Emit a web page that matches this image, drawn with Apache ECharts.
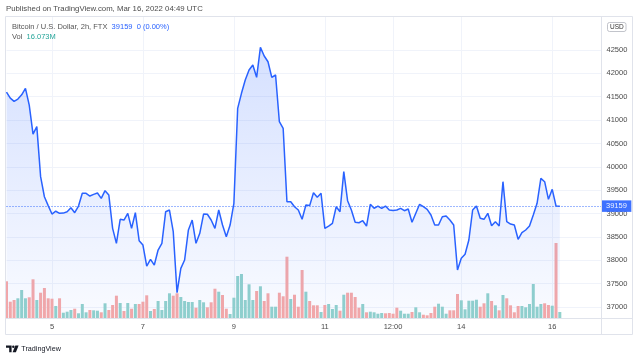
<!DOCTYPE html>
<html><head><meta charset="utf-8">
<script src="https://cdn.jsdelivr.net/npm/echarts@6/dist/echarts.min.js"></script>
<style>html,body{margin:0;padding:0;background:#fff}#c{width:640px;height:358px}</style>
</head><body><div id="c"></div>
<script>
// ---------- DATA ----------
const pairLabel = 'Bitcoin / U.S. Dollar, 2h, FTX';
const changeText = '0 (0.00%)';
const publishedText = 'Published on TradingView.com, Mar 16, 2022 04:49 UTC';

// 2h closes from Mar 4 00:00 UTC
const closes = [
  41600, 41470, 41400, 41450, 41540, 41680, 41320, 40700, 40860, 39790,
  39360, 39170, 38990, 39050, 39005, 39010, 39040, 39125, 39018, 39160,
  39433, 39433, 39375, 39410, 39440, 39326, 39489, 39397, 38684, 38363,
  38877, 38862, 39005, 38684, 39018, 38419, 38327, 37877, 38020, 37898,
  38220, 38363, 39040, 39076, 38612, 37306, 37828, 38006, 38650, 38862,
  38363, 38577, 38990, 38985, 38862, 38684, 39076, 38755, 38506, 38755,
  39219, 41252, 41573, 41858, 42072, 42179, 41915, 42557, 42371, 42249,
  41915, 41965, 40966, 40824, 39253, 39253, 39146, 39076, 38877, 39183,
  39170, 39446, 39348, 39433, 38684, 38733, 38791, 39146, 39040, 39896,
  39275, 39076, 38813, 38804, 38847, 38733, 39198, 39112, 39161, 39112,
  39161, 39076, 39065, 39075, 39112, 39061, 39097, 38813, 39005, 39198,
  39147, 39090, 38969, 38755, 38755, 38933, 38947, 38862, 38755, 37792,
  38042, 38128, 38434, 39076, 39161, 38898, 38877, 39005, 38740, 38826,
  38733, 39682, 38826, 38776, 38755, 38449, 38591, 38648, 38733, 38969,
  39219, 39754, 39682, 39305, 39519, 39161, 39159
];

// volume, millions
const volumes = [
  98.4, 43.7, 48.2, 52.8, 75.0, 52.8, 55.5, 103.7, 48.2, 67.8,
  80.4, 52.8, 51.7, 32.2, 52.8, 14.2, 16.9, 21.4, 24.9, 12.6,
  37.5, 15.3, 21.4, 20.6, 19.6, 15.3, 39.4, 21.4, 34.8, 59.8,
  40.2, 18.8, 40.2, 24.9, 37.5, 37.5, 43.7, 60.8, 18.8, 24.1,
  45.6, 21.4, 45.6, 66.2, 59.8, 66.2, 56.3, 45.6, 42.9, 42.9,
  27.6, 48.2, 42.1, 28.7, 42.1, 78.5, 70.5, 61.6, 24.9, 10.7,
  54.4, 112.6, 117.9, 48.2, 90.3, 48.2, 72.4, 85.0, 45.6, 66.2,
  30.3, 30.3, 67.8, 58.2, 164.3, 50.9, 62.4, 30.3, 128.6, 70.5,
  45.6, 34.0, 34.0, 16.1, 34.8, 37.5, 24.1, 34.8, 19.6, 62.4,
  67.8, 67.8, 56.3, 27.6, 37.5, 15.3, 16.9, 15.3, 11.5, 13.4,
  12.6, 13.4, 11.5, 27.6, 19.6, 11.5, 11.5, 16.1, 28.7, 15.3,
  8.8, 7.2, 13.4, 30.3, 38.3, 30.3, 11.5, 20.6, 20.6, 64.3,
  47.4, 23.3, 46.4, 46.4, 49.0, 30.3, 39.4, 66.2, 45.6, 34.0,
  20.6, 61.6, 52.8, 34.0, 15.3, 32.2, 32.2, 28.7, 37.5, 91.1,
  30.3, 37.5, 39.4, 34.8, 33.0, 201.0, 16.073
];

// 1 = up candle (teal volume), 0 = down candle (red volume)
const volUp = [
  0,0,0,1,1,1,0,0,1,0,0,0,0,1,0,1,1,1,0,1,1,1,0,1,1,
  0,1,0,0,0,1,0,1,0,1,0,0,0,1,0,1,1,1,1,0,0,1,1,1,1,
  0,1,1,0,0,0,1,0,0,1,1,1,1,1,1,1,0,1,0,0,1,1,0,0,0,
  1,0,0,0,1,0,0,0,1,0,1,1,1,0,1,0,0,0,0,1,0,1,1,1,1,
  0,0,0,0,1,1,1,0,1,1,0,0,0,0,1,1,1,0,0,0,1,1,1,1,1,
  0,0,1,0,1,0,1,0,0,0,0,1,1,1,1,1,1,0,0,1,0,1
];

const priceTicks = [37000, 37500, 38000, 38500, 39000, 39500, 40000, 40500, 41000, 41500, 42000, 42500];
const xTickCats = ['03-05 00:00', '03-07 00:00', '03-09 00:00', '03-11 00:00', '03-12 12:00', '03-14 00:00', '03-16 00:00'];
const xTickLabels = ['5', '7', '9', '11', '12:00', '14', '16'];

// time slots (2h) including right-side empty space
const slotCount = 158;
const startTime = Date.UTC(2022, 2, 4, 0, 0);
function pad(n) { return (n < 10 ? '0' : '') + n; }
const categories = [];
for (let i = 0; i < slotCount; i++) {
  const d = new Date(startTime + i * 2 * 3600000);
  categories.push(pad(d.getUTCMonth() + 1) + '-' + pad(d.getUTCDate()) + ' ' + pad(d.getUTCHours()) + ':00');
}

// ---------- CHART ----------
const FONT = '"Liberation Sans", Arial, sans-serif';
const BLUE = '#2962ff';
const lastClose = closes[closes.length - 1];
const lastVol = volumes[volumes.length - 1];
const isTick = (idx, val) => xTickCats.indexOf(val) >= 0;

const chart = echarts.init(document.getElementById('c'), null, { renderer: 'canvas' });
chart.setOption({
  animation: false,
  backgroundColor: '#ffffff',
  textStyle: { fontFamily: FONT },
  grid: { left: 6.5, top: 16.5, width: 595, height: 301.5, containLabel: false },
  xAxis: {
    type: 'category', data: categories, boundaryGap: false,
    axisLine: { show: false }, axisTick: { show: false },
    axisLabel: {
      interval: isTick,
      formatter: v => xTickLabels[xTickCats.indexOf(v)],
      color: '#4a4a4a', fontSize: 7.5, margin: 5, fontFamily: FONT
    },
    splitLine: { show: true, interval: isTick, lineStyle: { color: '#f0f3fa', width: 1 } }
  },
  yAxis: [{
    type: 'value', position: 'right', min: 36765, max: 43217, scale: true,
    axisLine: { show: false },
    axisTick: { show: false, customValues: priceTicks },
    axisLabel: { customValues: priceTicks, formatter: v => String(v), color: '#4a4a4a', fontSize: 7.5, margin: 5, fontFamily: FONT },
    splitLine: { show: true, lineStyle: { color: '#f0f3fa', width: 1 } }
  }, {
    type: 'value', min: 0, max: 808, show: false, splitLine: { show: false }
  }],
  series: [{
    type: 'bar', yAxisIndex: 1, barWidth: 3, silent: true, z: 1,
    data: volumes.map((v, i) => ({ value: v, itemStyle: { color: volUp[i] ? '#92d2cc' : '#f7a9a7' } }))
  }, {
    type: 'line', data: closes, symbol: 'none', silent: true, z: 3,
    lineStyle: { color: BLUE, width: 1.5 },
    areaStyle: {
      color: new echarts.graphic.LinearGradient(0, 0, 0, 1, [
        { offset: 0, color: 'rgba(41,98,255,0.28)' },
        { offset: 1, color: 'rgba(41,98,255,0.04)' }
      ])
    },
    markLine: {
      silent: true, symbol: ['none', 'none'], animation: false,
      lineStyle: { color: BLUE, type: [1, 2], width: 1, opacity: 0.9 },
      label: {
        show: true, position: 'end', distance: 0,
        formatter: p => String(p.value),
        color: '#ffffff', backgroundColor: BLUE, fontSize: 7.5, lineHeight: 9,
        padding: [1.5, 4.5, 1, 4.5], fontFamily: FONT
      },
      data: [{ yAxis: lastClose }]
    }
  }],
  graphic: [
    { type: 'rect', z: 100, silent: true, shape: { x: 5.5, y: 16.5, width: 627, height: 318 },
      style: { fill: 'none', stroke: '#e0e3eb', lineWidth: 1 } },
    { type: 'line', z: 100, silent: true, shape: { x1: 5.5, y1: 318.5, x2: 632.5, y2: 318.5 },
      style: { stroke: '#e0e3eb', lineWidth: 1 } },
    { type: 'line', z: 100, silent: true, shape: { x1: 601.5, y1: 16.5, x2: 601.5, y2: 334.5 },
      style: { stroke: '#e0e3eb', lineWidth: 1 } },
    { type: 'text', z: 100, silent: true, x: 6, y: 9,
      style: { text: publishedText, fill: '#4c4c4c', fontSize: 7.8, fontFamily: FONT, verticalAlign: 'middle' } },
    { type: 'text', z: 100, silent: true, x: 12, y: 26.5,
      style: {
        text: '{g|' + pairLabel + '}  {b|' + lastClose + '}  {b|' + changeText + '}',
        fontSize: 7.5, fontFamily: FONT, verticalAlign: 'middle',
        rich: { g: { fill: '#555555', fontSize: 7.5, fontFamily: FONT }, b: { fill: BLUE, fontSize: 7.5, fontFamily: FONT } }
      } },
    { type: 'text', z: 100, silent: true, x: 12, y: 37,
      style: {
        text: '{g|Vol}  {t|' + lastVol.toFixed(3) + 'M}',
        fontSize: 7.5, fontFamily: FONT, verticalAlign: 'middle',
        rich: { g: { fill: '#555555', fontSize: 7.5, fontFamily: FONT }, t: { fill: '#26a69a', fontSize: 7.5, fontFamily: FONT } }
      } },
    { type: 'rect', z: 100, silent: true, shape: { x: 607.5, y: 22.5, width: 18.5, height: 9, r: 2 },
      style: { fill: '#ffffff', stroke: '#b2b5be', lineWidth: 0.8 } },
    { type: 'text', z: 101, silent: true, x: 616.8, y: 27.2,
      style: { text: 'USD', fill: '#333333', fontSize: 6.5, fontFamily: FONT, align: 'center', verticalAlign: 'middle' } },
    // TradingView logo
    { type: 'polygon', z: 100, silent: true,
      shape: { points: [[6, 345.5], [11.6, 345.5], [11.6, 352.3], [9.2, 352.3], [9.2, 347.8], [6, 347.8]] },
      style: { fill: '#131722' } },
    { type: 'circle', z: 100, silent: true, shape: { cx: 13.3, cy: 346.7, r: 1.25 }, style: { fill: '#131722' } },
    { type: 'polygon', z: 100, silent: true,
      shape: { points: [[15.3, 345.5], [18.6, 345.5], [15.9, 352.3], [12.6, 352.3]] },
      style: { fill: '#131722' } },
    { type: 'text', z: 100, silent: true, x: 21.3, y: 349,
      style: { text: 'TradingView', fill: '#131722', fontSize: 7.2, fontFamily: FONT, verticalAlign: 'middle' } }
  ]
});
</script></body></html>
